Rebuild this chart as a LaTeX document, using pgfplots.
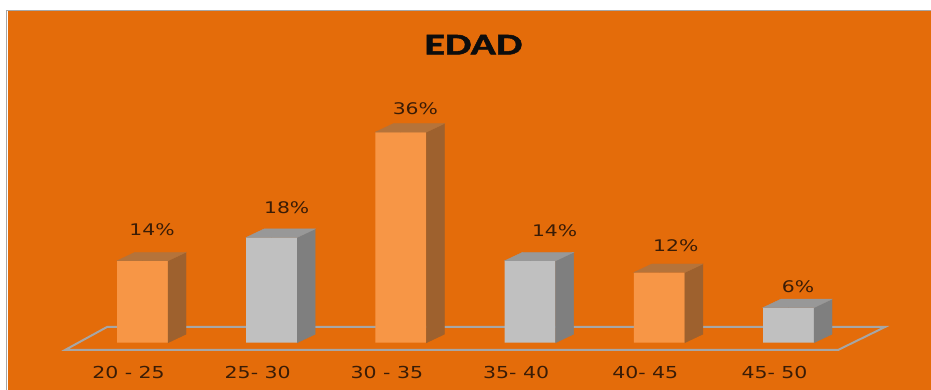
\documentclass[border=0pt]{standalone}
\usepackage{pgfplots}
\usepackage{pgfplotstable}
\pgfplotsset{compat=1.18}
\usepackage{fontspec}
\setmainfont{DejaVu Sans}
\newfontfamily\labfont[FakeStretch=1.24]{DejaVu Sans}
\newfontfamily\pctfont[FakeStretch=1.27]{DejaVu Sans}
\newfontfamily\titfont[FakeStretch=1.4,FakeBold=1.5]{Carlito}
\definecolor{bg}{HTML}{E46C0A}
\definecolor{orfront}{HTML}{F79646}
\definecolor{orside}{HTML}{9E612E}
\definecolor{ortop}{HTML}{B5733A}
\definecolor{grfront}{HTML}{C0C0C0}
\definecolor{grside}{HTML}{7F7F7F}
\definecolor{grtop}{HTML}{989898}
\definecolor{floorcol}{HTML}{A6A6A6}
\definecolor{txt}{HTML}{3A1C06}
% x = category index, y = percent, dx/dy = label offsets (pt)
\pgfplotstableread{
x y dx dy
0 14 9.5 25
2 36 14.5 18
4 12 16.5 21
}\orangedata
\pgfplotstableread{
x y dx dy
1 18 15 24
3 14 24.5 24
5 6 9.5 15
}\graydata
\pgfplotsset{
  box3d/.style n args={2}{only marks, mark=*, mark size=0pt,
    mark options={draw=none,fill=none}, scatter,
    visualization depends on={rawy \as \yv},
    scatter/@pre marker code/.code={%
      \pgfmathsetmacro\hb{8.5-\yv*5.85}%
      \pgfmathsetmacro\hf{-\yv*5.85}%
      \fill[#1] (25.5pt,0pt) -- (43.5pt,8.5pt) -- (43.5pt,\hb pt) -- (25.5pt,\hf pt) -- cycle;
      \fill[#2] (-25.5pt,0pt) -- (-7.5pt,8.5pt) -- (43.5pt,8.5pt) -- (25.5pt,0pt) -- cycle;
    },
    scatter/@post marker code/.code={}
  },
  frontbar/.style={ybar, bar width=51pt, bar shift=0pt, fill=#1, draw=none,
    visualization depends on={\thisrow{dx} \as \ldx},
    visualization depends on={\thisrow{dy} \as \ldy},
    nodes near coords={\pgfmathprintnumber{\pgfplotspointmeta}\%},
    nodes near coords style={anchor=base, yshift=\ldy pt, xshift=\ldx pt,
      font=\pctfont\fontsize{16}{16}\selectfont, text=txt}
  }
}
\begin{document}
\begin{tikzpicture}[x=1pt,y=1pt]
\useasboundingbox (0,0) rectangle (931,390);
\fill[white] (0,0) rectangle (931,390);
\fill[bg] (7.5,0) rectangle (931,378.5);
\draw[gray!70, line width=1.2pt] (6.8,0) -- (6.8,379.2) -- (931,379.2);
\begin{axis}[at={(0,0)}, anchor=south west, scale only axis,
  width=931pt, height=390pt,
  xmin=-1.10294, xmax=6.10294, ymin=-8.085, ymax=58.581,
  clip=false,
  axis line style={draw=none}, tick style={draw=none},
  major tick length=0pt,
  ytick=\empty,
  xtick={0,1,2,3,4,5},
  xticklabels={20 - 25, 25- 30, 30 - 35, 35- 40, 40- 45, 45- 50},
  xticklabel style={anchor=base, yshift=11.7pt, xshift=-14pt,
    font=\labfont\fontsize{16.5}{16.5}\selectfont, text=txt},
  /pgf/number format/assume math mode=true,
]
\draw[floorcol, line width=2pt] (axis cs:-0.59985,-1.2479) -- (axis cs:5.38313,-1.2479)
  -- (axis cs:5.74690,2.68376) -- (axis cs:-0.27477,2.68376) -- cycle;
\addplot[frontbar=orfront] table[x=x,y=y] {\orangedata};
\addplot[frontbar=grfront] table[x=x,y=y] {\graydata};
\addplot[box3d={orside}{ortop}] table[x=x,y=y] {\orangedata};
\addplot[box3d={grside}{grtop}] table[x=x,y=y] {\graydata};
\end{axis}
\node[font=\titfont\bfseries\fontsize{30}{30}\selectfont, text=black!95] at (473.5,345.3) {EDAD};
\end{tikzpicture}
\end{document}
